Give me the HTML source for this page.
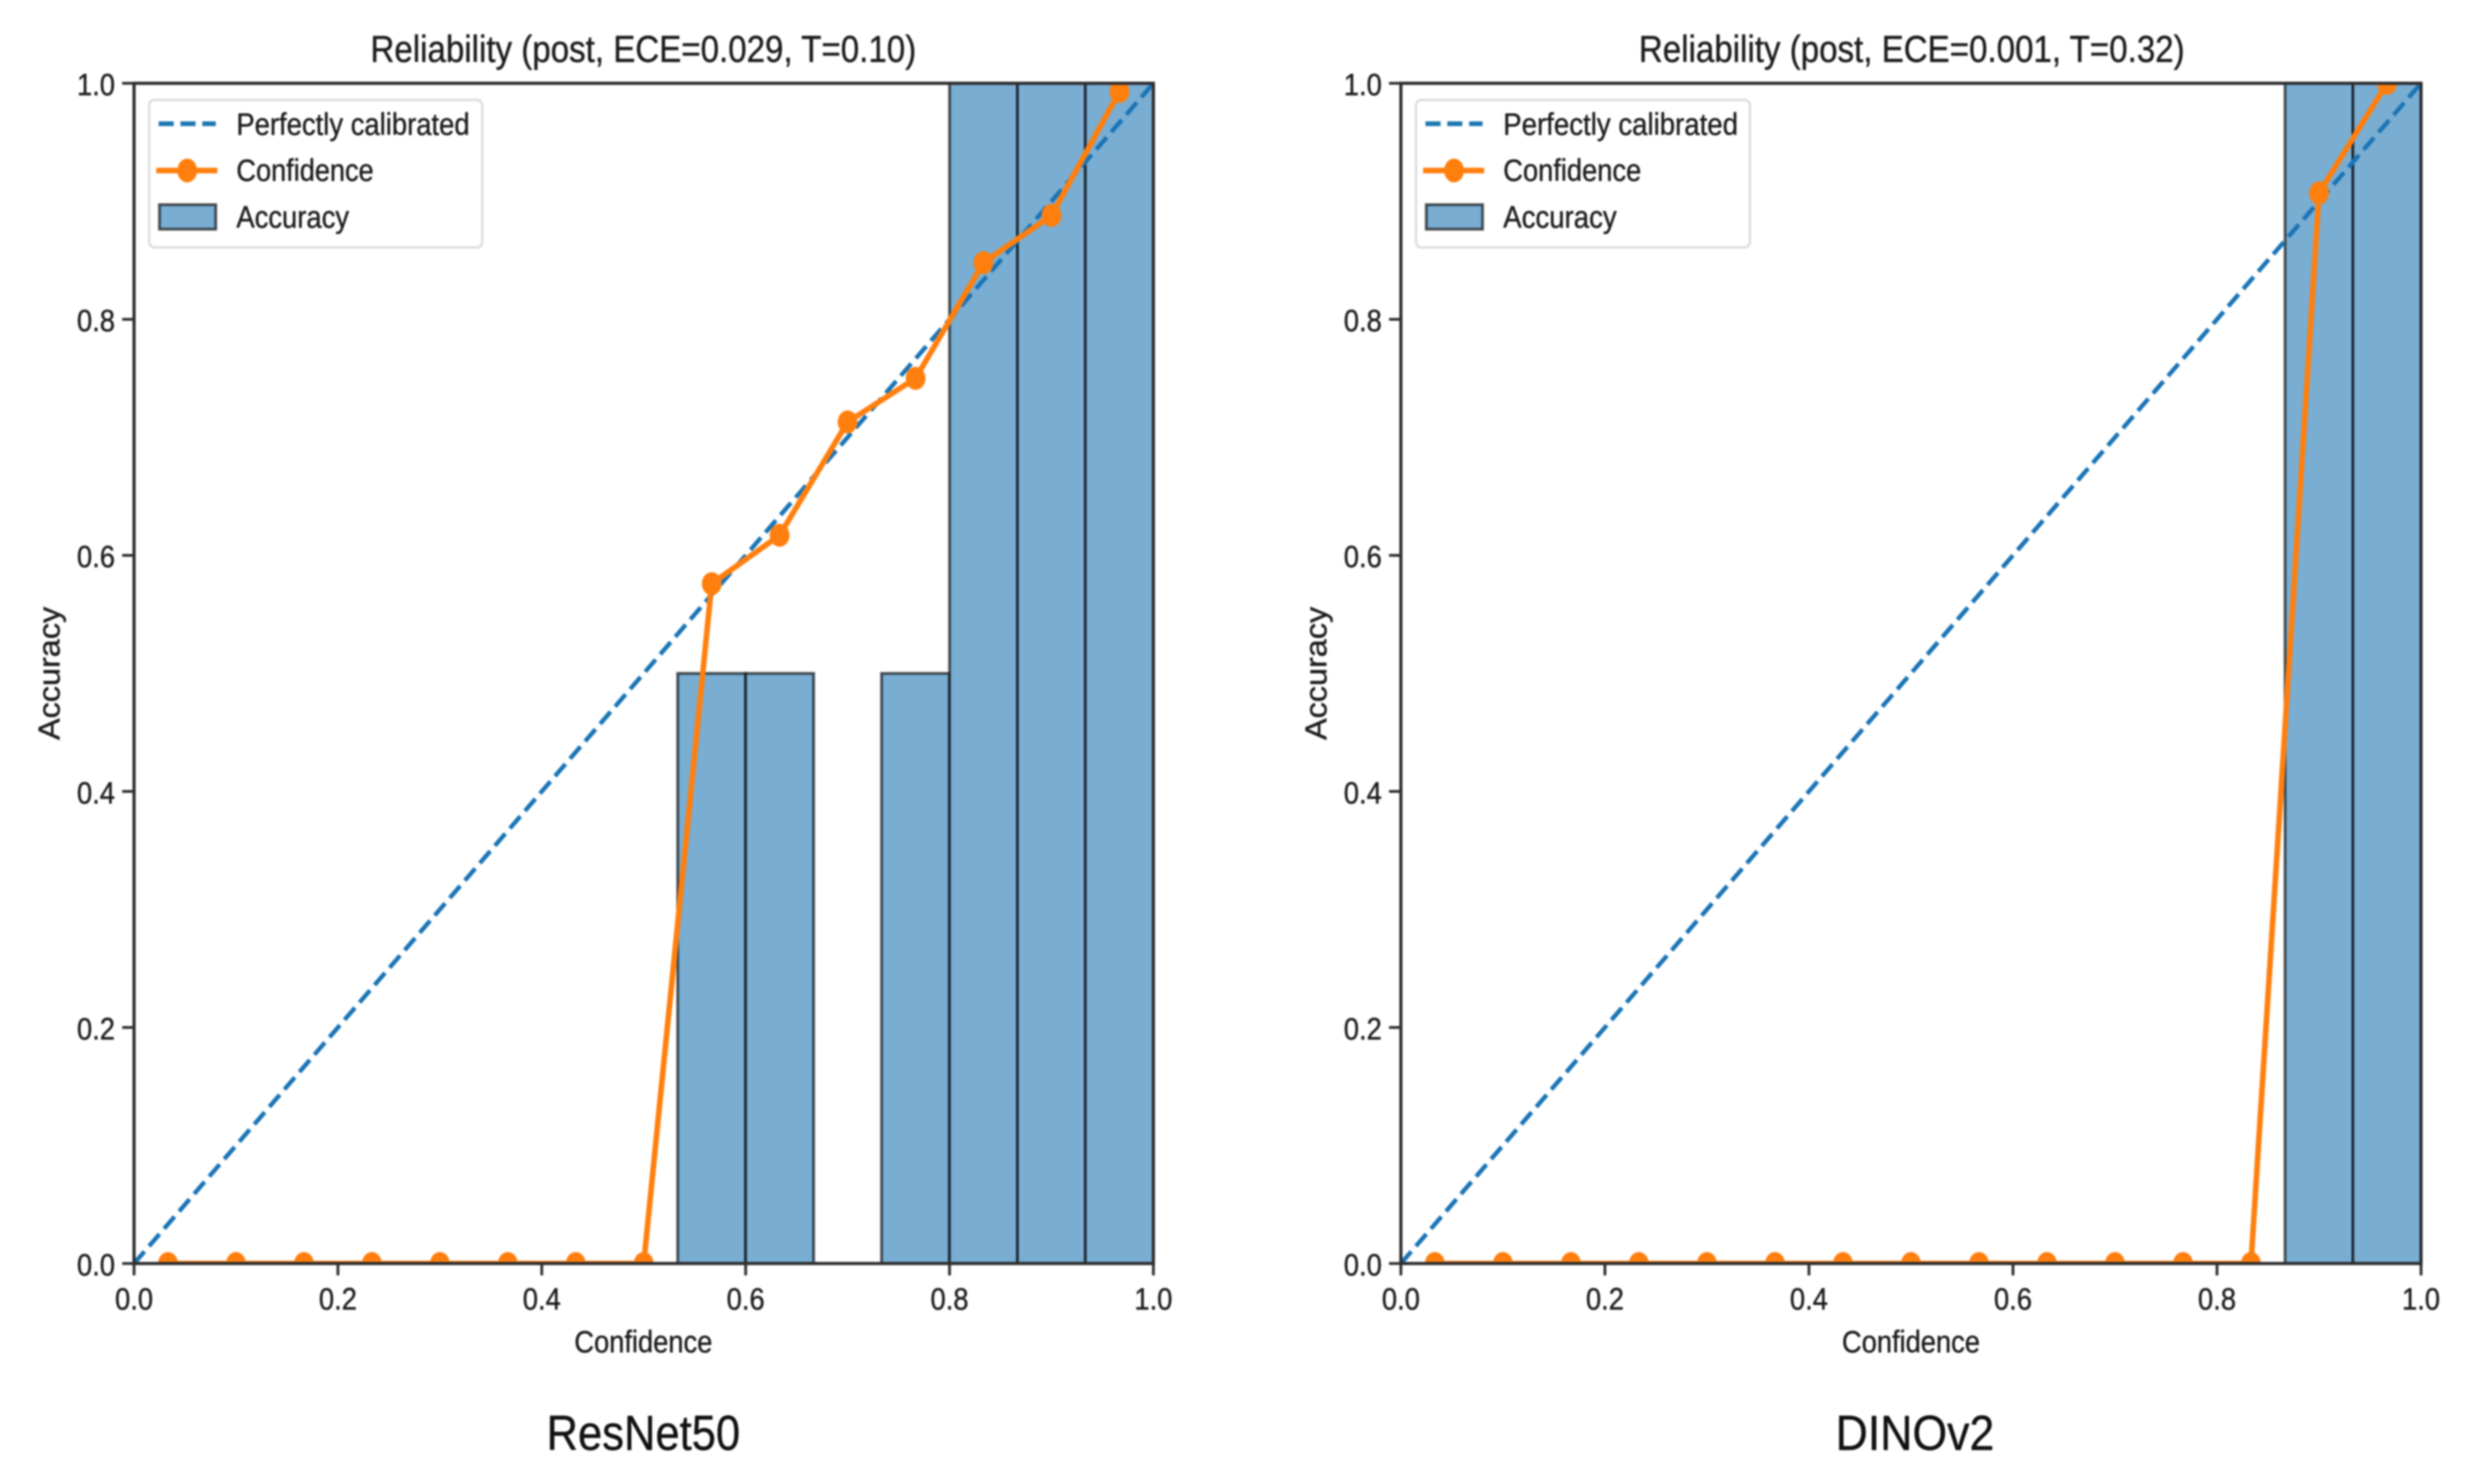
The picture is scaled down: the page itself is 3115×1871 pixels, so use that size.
<!DOCTYPE html>
<html lang="en">
<head>
<meta charset="utf-8">
<title>Reliability diagrams</title>
<style>
html,body{margin:0;padding:0;background:#fff;width:3115px;height:1871px;overflow:hidden}
svg{display:block;filter:blur(1.1px)}
text{font-family:"Liberation Sans",Arial,sans-serif;fill:#1c1c1c;stroke:#1c1c1c;stroke-width:0.5px}
</style>
</head>
<body>
<svg id="chart" xmlns="http://www.w3.org/2000/svg" width="3115" height="1871" viewBox="0 0 3115 1871">
  <rect x="0" y="0" width="3115" height="1871" fill="#fff"/>
  <defs>
    <clipPath id="clip-left"><rect x="169" y="105" width="1285" height="1488"/></clipPath>
    <clipPath id="clip-right"><rect x="1766" y="105" width="1286" height="1488"/></clipPath>
  </defs>

  <g id="panel-left"></g>
  <g id="panel-right"></g>

  <text x="811" y="78" font-size="47" text-anchor="middle" textLength="688" lengthAdjust="spacingAndGlyphs">Reliability (post, ECE=0.029, T=0.10)</text>
  <text x="2410" y="78" font-size="47" text-anchor="middle" textLength="688" lengthAdjust="spacingAndGlyphs">Reliability (post, ECE=0.001, T=0.32)</text>

  <text x="811" y="1705" font-size="39" text-anchor="middle" textLength="174" lengthAdjust="spacingAndGlyphs">Confidence</text>
  <text x="2409" y="1705" font-size="39" text-anchor="middle" textLength="174" lengthAdjust="spacingAndGlyphs">Confidence</text>

  <text transform="translate(75 849) rotate(-90)" font-size="38" text-anchor="middle" textLength="168" lengthAdjust="spacingAndGlyphs">Accuracy</text>
  <text transform="translate(1672 849) rotate(-90)" font-size="38" text-anchor="middle" textLength="168" lengthAdjust="spacingAndGlyphs">Accuracy</text>

  <g>
    <rect x="188" y="126" width="420" height="186" rx="7" fill="#fff" stroke="#dcdcdc" stroke-width="3"/>
    <line x1="200" y1="156" x2="272" y2="156" stroke="#1f77b4" stroke-width="6" stroke-dasharray="19 8.5"/>
    <text x="298" y="170" font-size="39" textLength="294" lengthAdjust="spacingAndGlyphs">Perfectly calibrated</text>
    <line x1="197" y1="215" x2="274" y2="215" stroke="#ff7f0e" stroke-width="7"/>
    <ellipse cx="236" cy="215" rx="12.5" ry="15" fill="#ff7f0e"/>
    <text x="298" y="228" font-size="39" textLength="173" lengthAdjust="spacingAndGlyphs">Confidence</text>
    <rect x="201" y="258" width="71" height="31" fill="#79add2" stroke="#000" stroke-opacity="0.65" stroke-width="3.5"/>
    <text x="298" y="287" font-size="39" textLength="142" lengthAdjust="spacingAndGlyphs">Accuracy</text>
  </g>
  <g>
    <rect x="1785" y="126" width="421" height="186" rx="7" fill="#fff" stroke="#dcdcdc" stroke-width="3"/>
    <line x1="1797" y1="156" x2="1869" y2="156" stroke="#1f77b4" stroke-width="6" stroke-dasharray="19 8.5"/>
    <text x="1895" y="170" font-size="39" textLength="296" lengthAdjust="spacingAndGlyphs">Perfectly calibrated</text>
    <line x1="1794" y1="215" x2="1871" y2="215" stroke="#ff7f0e" stroke-width="7"/>
    <ellipse cx="1833" cy="215" rx="12.5" ry="15" fill="#ff7f0e"/>
    <text x="1895" y="228" font-size="39" textLength="174" lengthAdjust="spacingAndGlyphs">Confidence</text>
    <rect x="1798" y="258" width="71" height="31" fill="#79add2" stroke="#000" stroke-opacity="0.65" stroke-width="3.5"/>
    <text x="1895" y="287" font-size="39" textLength="143" lengthAdjust="spacingAndGlyphs">Accuracy</text>
  </g>

  <text x="811" y="1828" font-size="62" text-anchor="middle" textLength="244" lengthAdjust="spacingAndGlyphs" style="fill:#111;stroke:#111">ResNet50</text>
  <text x="2414" y="1828" font-size="62" text-anchor="middle" textLength="200" lengthAdjust="spacingAndGlyphs" style="fill:#111;stroke:#111">DINOv2</text>
</svg>

<script>
// Chart data
const binEdges = [0, 0.0667, 0.1333, 0.2, 0.2667, 0.3333, 0.4, 0.4667, 0.5333, 0.6, 0.6667, 0.7333, 0.8, 0.8667, 0.9333, 1];
const binCenters = [0.0333, 0.1, 0.1667, 0.2333, 0.3, 0.3667, 0.4333, 0.5, 0.5667, 0.6333, 0.7, 0.7667, 0.8333, 0.9, 0.9667];
const xTickValues = [0, 0.2, 0.4, 0.6, 0.8, 1];
const yTickValues = [0, 0.2, 0.4, 0.6, 0.8, 1];
const xTickLabels = ['0.0', '0.2', '0.4', '0.6', '0.8', '1.0'];
const yTickLabels = ['0.0', '0.2', '0.4', '0.6', '0.8', '1.0'];
const perfectLine = [0, 1];

const resnetAccuracy = [0, 0, 0, 0, 0, 0, 0, 0, 0.5, 0.5, 0, 0.5, 1, 1, 1];
const resnetConfidence = [0, 0, 0, 0, 0, 0, 0, 0, 0.576, 0.617, 0.713, 0.75, 0.848, 0.888, 0.993];
const dinoAccuracy = [0, 0, 0, 0, 0, 0, 0, 0, 0, 0, 0, 0, 0, 1, 1];
const dinoConfidence = [0, 0, 0, 0, 0, 0, 0, 0, 0, 0, 0, 0, 0, 0.907, 1];

const SVG_NS = 'http://www.w3.org/2000/svg';

function shape(tag, attrs, parent) {
  const el = document.createElementNS(SVG_NS, tag);
  for (const key in attrs) el.setAttribute(key, attrs[key]);
  parent.appendChild(el);
  return el;
}

function drawPanel(panelId, clipId, left, right, top, bottom, accuracy, confidence) {
  const panel = document.getElementById(panelId);
  const xScale = v => left + (right - left) * v;
  const yScale = v => bottom - (bottom - top) * v;

  const marks = shape('g', { 'clip-path': 'url(#' + clipId + ')' }, panel);
  
  

  accuracy.forEach((value, i) => {
    const x0 = xScale(binEdges[i]);
    const x1 = xScale(binEdges[i + 1]);
    const bar = shape('rect', {
      x: x0, y: yScale(value), width: x1 - x0, height: yScale(0) - yScale(value),
      fill: '#79add2', stroke: '#000', 'stroke-opacity': 0.65, 'stroke-width': 3.5
    }, marks);
    
    
  });

  const diagonal = shape('line', {
    x1: xScale(perfectLine[0]), y1: yScale(perfectLine[0]),
    x2: xScale(perfectLine[1]), y2: yScale(perfectLine[1]),
    stroke: '#1a74b6', 'stroke-width': 5.5, 'stroke-dasharray': '20 9'
  }, marks);
  
  

  const points = confidence.map((value, i) => xScale(binCenters[i]) + ',' + yScale(value)).join(' ');
  const confLine = shape('polyline', {
    points: points, fill: 'none', stroke: '#ff7f0e', 'stroke-width': 7, 'stroke-linejoin': 'round'
  }, marks);
  
  

  confidence.forEach((value, i) => {
    const dot = shape('ellipse', {
      cx: xScale(binCenters[i]), cy: yScale(value), rx: 12.5, ry: 14.5, fill: '#ff7f0e'
    }, marks);
    
    
  });

  const frame = shape('rect', {
    x: left, y: top, width: right - left, height: bottom - top,
    fill: 'none', stroke: '#2e2e2e', 'stroke-width': 4
  }, panel);
  
  

  xTickValues.forEach((value, i) => {
    const tick = shape('line', {
      x1: xScale(value), y1: bottom, x2: xScale(value), y2: bottom + 15, stroke: '#2e2e2e', 'stroke-width': 3.5
    }, panel);
    
    
    const label = shape('text', {
      x: xScale(value), y: bottom + 58, 'font-size': 39, 'text-anchor': 'middle',
      textLength: 48, lengthAdjust: 'spacingAndGlyphs'
    }, panel);
    label.textContent = xTickLabels[i];
    
    
  });

  yTickValues.forEach((value, i) => {
    const tick = shape('line', {
      x1: left - 15, y1: yScale(value), x2: left, y2: yScale(value), stroke: '#2e2e2e', 'stroke-width': 3.5
    }, panel);
    
    
    const label = shape('text', {
      x: left - 24, y: yScale(value) + 15, 'font-size': 39, 'text-anchor': 'end',
      textLength: 48, lengthAdjust: 'spacingAndGlyphs'
    }, panel);
    label.textContent = yTickLabels[i];
    
    
  });
}

drawPanel('panel-left', 'clip-left', 169, 1454, 105, 1593, resnetAccuracy, resnetConfidence);
drawPanel('panel-right', 'clip-right', 1766, 3052, 105, 1593, dinoAccuracy, dinoConfidence);
</script>
</body>
</html>
